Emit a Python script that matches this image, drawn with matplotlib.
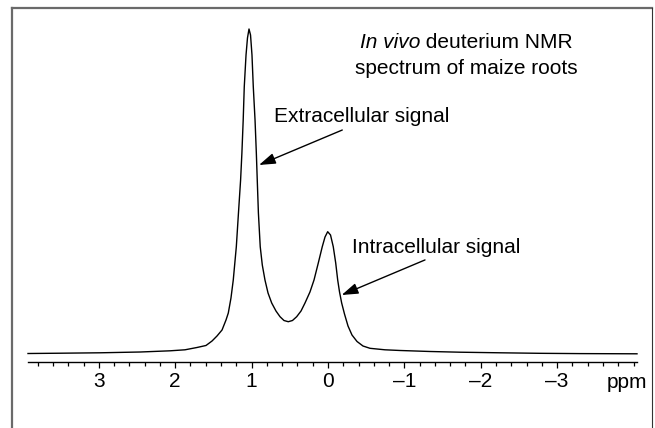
import matplotlib
matplotlib.use("Agg")
import matplotlib.pyplot as plt
from matplotlib.ticker import FixedLocator, FixedFormatter, MultipleLocator
from matplotlib.lines import Line2D

plt.rcParams['font.family'] = ['Liberation Sans', 'DejaVu Sans']

# Chemical shift (ppm) and relative intensity (% of main peak)
ppm = [3.927, 3.508, 2.984, 2.461, 2.068, 1.872, 1.715, 1.597, 1.518, 1.453,
       1.387, 1.335, 1.305, 1.270, 1.240, 1.200, 1.172, 1.144, 1.127, 1.110,
       1.096, 1.073, 1.054, 1.034, 1.014, 0.995, 0.978, 0.955, 0.938, 0.926,
       0.911, 0.887, 0.860, 0.825, 0.785, 0.737, 0.681, 0.628, 0.576, 0.520,
       0.465, 0.410, 0.353, 0.301, 0.236, 0.183, 0.127, 0.075, 0.039, 0.004,
       -0.033, -0.069, -0.101, -0.127, -0.151, -0.179, -0.216, -0.262, -0.314, -0.380,
       -0.458, -0.550, -0.746, -0.942, -1.335, -1.728, -2.251, -2.775, -3.298, -4.045]
intensity = [0.09, 0.18, 0.31, 0.55, 0.92, 1.23, 1.94, 2.56, 3.94, 5.48,
             7.33, 10.41, 12.56, 17.18, 22.72, 32.97, 43.35, 53.51, 61.82, 71.98,
             82.24, 91.99, 97.23, 100.0, 98.15, 91.99, 82.24, 71.98, 61.82, 53.51,
             43.35, 32.97, 27.34, 22.72, 18.72, 15.64, 13.18, 11.42, 10.25, 9.88,
             10.25, 11.42, 13.18, 15.64, 19.03, 22.72, 27.96, 32.97, 35.96, 37.59,
             36.58, 32.97, 27.96, 22.72, 19.03, 15.64, 12.25, 8.56, 5.79, 3.79,
             2.40, 1.69, 1.23, 1.02, 0.71, 0.49, 0.31, 0.15, 0.06, 0.0]

major_ticks = [3, 2, 1, 0, -1, -2, -3]
major_labels = ['3', '2', '1', '0', '–1', '–2', '–3']

W, H = 655, 428
fig = plt.figure(figsize=(W / 100, H / 100), dpi=100)

def fx(px):
    return px / W

def fy(py):
    return 1 - py / H

ax = fig.add_axes([fx(28), fy(362), (637 - 28) / W, (362 - 29) / H])
ax.plot(ppm, intensity, color='black', lw=1.0, clip_on=False, solid_joinstyle='round')
ax.set_xlim(3.927, -4.045)
ax.set_ylim(-2.525, 100)

for s in ['top', 'left', 'right']:
    ax.spines[s].set_visible(False)
ax.spines['bottom'].set_linewidth(1.0)
ax.set_yticks([])
ax.xaxis.set_major_locator(FixedLocator(major_ticks))
ax.xaxis.set_major_formatter(FixedFormatter(major_labels))
ax.xaxis.set_minor_locator(MultipleLocator(0.2))
ax.tick_params(axis='x', which='major', direction='out', length=4.5, width=0.9,
               labelsize=15, pad=2.5)
ax.tick_params(axis='x', which='minor', direction='out', length=2.6, width=0.9)
ax.patch.set_visible(False)

# frame
fig.add_artist(Line2D([fx(12), fx(12)], [fy(7.5), 0], color='#6a6a6a', lw=1.6))
fig.add_artist(Line2D([fx(12), fx(652)], [fy(7.5), fy(7.5)], color='#6a6a6a', lw=1.6))
fig.add_artist(Line2D([fx(652), fx(652)], [fy(7.5), 0], color='#333333', lw=0.8))

fs = 15
r = fig.canvas.get_renderer()
a = fig.text(0, 0, 'In vivo', fontsize=fs, style='italic')
b = fig.text(0, 0, ' deuterium NMR', fontsize=fs)
wa = a.get_window_extent(r).width
wb = b.get_window_extent(r).width
a.remove(); b.remove()
cx = 466
start = cx - (wa + wb) / 2
fig.text(fx(start), fy(48), 'In vivo', fontsize=fs, style='italic', ha='left', va='baseline')
fig.text(fx(start + wa), fy(48), ' deuterium NMR', fontsize=fs, ha='left', va='baseline')
fig.text(fx(cx), fy(74), 'spectrum of maize roots', fontsize=fs, ha='center', va='baseline')

fig.text(fx(274), fy(122), 'Extracellular signal', fontsize=fs, ha='left', va='baseline')
fig.text(fx(352), fy(253), 'Intracellular signal', fontsize=fs, ha='left', va='baseline')
fig.text(fx(607), fy(388), 'ppm', fontsize=15, ha='left', va='baseline')

arrow = dict(arrowstyle='-|>,head_length=1.0,head_width=0.33', color='black', lw=1.0,
             shrinkA=0, shrinkB=0)
ax.annotate('', xy=(0.903, 58.13), xytext=(-0.187, 68.9), arrowprops=arrow,
            annotation_clip=False)
ax.annotate('', xy=(-0.179, 18.1), xytext=(-1.270, 28.9), arrowprops=arrow,
            annotation_clip=False)

fig.savefig('out.png', dpi=100)
